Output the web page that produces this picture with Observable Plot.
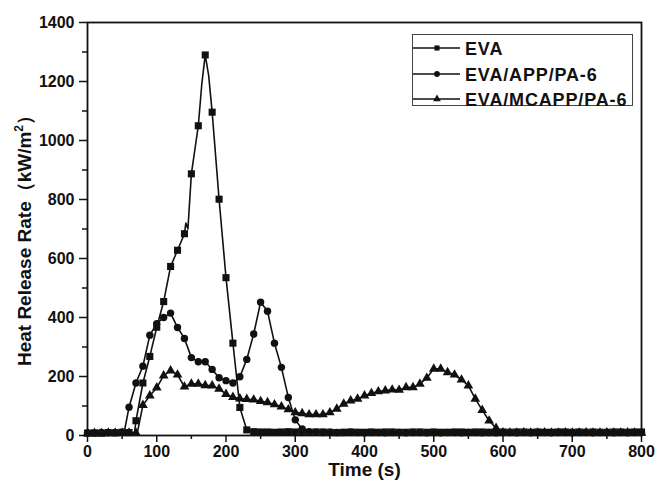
<!DOCTYPE html>
<html>
<head>
<meta charset="utf-8">
<script src="https://cdn.jsdelivr.net/npm/d3@7"></script>
<script src="https://cdn.jsdelivr.net/npm/@observablehq/plot@0.6"></script>
<style>
  html, body { margin: 0; padding: 0; background: #fff; }
</style>
</head>
<body>
<div id="chart"></div>
<script>
// Time grid (s) at which markers are drawn
const gridT = [
  0,10,20,30,40,50,60,70,80,90,
  100,110,120,130,140,150,160,170,180,190,
  200,210,220,230,240,250,260,270,280,290,
  300,310,320,330,340,350,360,370,380,390,
  400,410,420,430,440,450,460,470,480,490,
  500,510,520,530,540,550,560,570,580,590,
  600,610,620,630,640,650,660,670,680,690,
  700,710,720,730,740,750,760,770,780,790,
  800
];
// Heat release rate (kW/m²)
const evaV = [
  8,9,8,10,9,11,10,50,178,268,
  367,454,573,628,684,887,1050,1290,1096,801,
  535,313,95,19,13,12,12,11,12,13,
  12,11,11,12,12,11,10,11,12,11,
  11,12,11,12,12,11,11,12,12,11,
  12,11,11,12,12,11,12,12,11,11,
  12,11,12,12,11,12,11,11,12,12,
  11,12,11,12,11,11,12,12,11,12,
  12
];
const evaExtraT = [68, 142, 145, 165, 175];
const evaExtraV = [10, 720, 700, 1190, 1220];

const appV = [
  9,8,10,9,10,11,96,178,235,340,
  379,400,415,366,329,264,250,250,224,196,
  186,178,199,258,344,452,421,313,231,129,
  53,22,13,11,10,11,10,10,11,10,
  9,10,10,9,10,10,9,10,10,9,
  10,9,10,10,9,10,10,9,10,9,
  10,10,9,10,9,10,10,9,10,10,
  9,10,10,9,10,10,9,10,9,10,
  10
];
const appExtraT = [53];
const appExtraV = [11];

const mcappV = [
  7,8,7,9,8,8,9,9,103,135,
  162,203,220,206,165,175,175,170,169,158,
  140,130,125,123,121,116,112,105,98,88,
  78,75,71,71,71,78,90,107,118,124,
  135,143,149,152,155,154,163,163,175,195,
  226,226,214,206,189,169,124,86,50,25,
  10,9,9,10,9,9,10,9,9,10,
  9,9,10,9,9,10,9,9,10,9,
  9
];
const mcappExtraT = [72];
const mcappExtraV = [10];

const seriesNames = ["EVA", "EVA/APP/PA-6", "EVA/MCAPP/PA-6"];
const seriesSymbols = ["square", "circle", "triangle"];
const xMajor = [0,100,200,300,400,500,600,700,800];
const xMinor = [50,150,250,350,450,550,650,750];
const yMajor = [0,200,400,600,800,1000,1200,1400];
const yMinor = [100,300,500,700,900,1100,1300];

function pts(values, name) {
  return gridT.map((t, i) => ({t, v: values[i], name}));
}
function linePts(values, exT, exV, name) {
  const a = pts(values, name).concat(exT.map((t, i) => ({t, v: exV[i], name})));
  return a.sort((p, q) => p.t - q.t);
}

const evaPts = pts(evaV, seriesNames[0]);
const appPts = pts(appV, seriesNames[1]);
const mcPts = pts(mcappV, seriesNames[2]);
const evaLine = linePts(evaV, evaExtraT, evaExtraV, seriesNames[0]);
const appLine = linePts(appV, appExtraT, appExtraV, seriesNames[1]);
const mcLine = linePts(mcappV, mcappExtraT, mcappExtraV, seriesNames[2]);

const ink = "#111";
const symR = {square: 4.0, circle: 3.7, triangle: 3.6};

const chart = Plot.plot({
  width: 655,
  height: 480,
  marginLeft: 87,
  marginRight: 14,
  marginTop: 22,
  marginBottom: 45,
  style: {fontFamily: "'Liberation Sans', Arial, sans-serif", fontSize: "16px", fontWeight: "bold", background: "#fff", color: ink},
  x: {domain: [0, 800]},
  y: {domain: [0, 1400]},
  marks: [
    Plot.axisX({ticks: xMajor, tickSize: 7, tickPadding: 3, tickFormat: d => String(d), label: null, strokeWidth: 1.5}),
    Plot.axisX({ticks: xMinor, tickSize: 4, tickFormat: () => "", label: null, strokeWidth: 1.5}),
    Plot.axisY({ticks: yMajor, tickSize: 8, tickPadding: 5, tickFormat: d => String(d), label: null, strokeWidth: 1.5}),
    Plot.axisY({ticks: yMinor, tickSize: 5, tickFormat: () => "", label: null, strokeWidth: 1.5}),
    Plot.line(mcLine, {x: "t", y: "v", stroke: ink, strokeWidth: 1.6}),
    Plot.line(appLine, {x: "t", y: "v", stroke: ink, strokeWidth: 1.6}),
    Plot.line(evaLine, {x: "t", y: "v", stroke: ink, strokeWidth: 1.6}),
    Plot.dot(mcPts, {x: "t", y: "v", symbol: seriesSymbols[2], r: symR.triangle, fill: ink, stroke: null}),
    Plot.dot(appPts, {x: "t", y: "v", symbol: seriesSymbols[1], r: symR.circle, fill: ink, stroke: null}),
    Plot.dot(evaPts, {x: "t", y: "v", symbol: seriesSymbols[0], r: symR.square, fill: ink, stroke: null}),
    Plot.frame({stroke: ink, strokeWidth: 1.8})
  ]
});

const svg = d3.select(chart);

// Axis titles
svg.append("text")
  .attr("x", 364.5).attr("y", 476)
  .attr("text-anchor", "middle")
  .attr("font-size", 19).attr("font-weight", "bold")
  .attr("fill", ink)
  .text("Time (s)");

const yt = svg.append("text")
  .attr("transform", "translate(31,236) rotate(-90)")
  .attr("text-anchor", "middle")
  .attr("font-size", 19).attr("font-weight", "bold")
  .attr("fill", ink);
yt.append("tspan").text("Heat Release Rate\uFF08kW/m");
yt.append("tspan").attr("font-size", 12).attr("dy", -8).text("2");
yt.append("tspan").attr("dy", 8).text("\uFF09");

// Legend
const lg = svg.append("g").attr("text-anchor", "start");
lg.append("rect")
  .attr("x", 412.5).attr("y", 34.5).attr("width", 220).attr("height", 71)
  .attr("fill", "#fff").attr("stroke", "#444").attr("stroke-width", 1);
const rowsY = [48, 74, 99];
const symScale = d3.scaleOrdinal(seriesSymbols, [d3.symbolSquare, d3.symbolCircle, d3.symbolTriangle]);
seriesNames.forEach((name, i) => {
  const y = rowsY[i];
  lg.append("line").attr("x1", 413).attr("x2", 460).attr("y1", y).attr("y2", y)
    .attr("stroke", ink).attr("stroke-width", 1.5);
  lg.append("path")
    .attr("transform", `translate(437,${y})`)
    .attr("d", d3.symbol(symScale(seriesSymbols[i]), 26)())
    .attr("fill", ink);
  lg.append("text")
    .attr("x", 465).attr("y", y + 6.5)
    .attr("text-anchor", "start")
    .attr("font-size", 18).attr("font-weight", "bold")
    .attr("letter-spacing", 0.85)
    .attr("fill", ink)
    .text(name);
});

document.getElementById("chart").appendChild(chart);
</script>
</body>
</html>
